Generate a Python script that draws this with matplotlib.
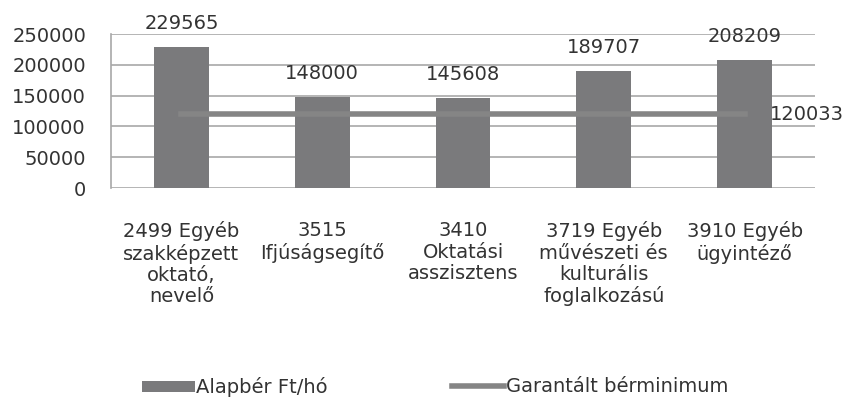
import matplotlib.pyplot as plt
import numpy as np

plt.rcParams['font.family'] = ['DejaVu Sans']

# data
categories = ['2499 Egyéb\nszakképzett\noktató,\nnevelő',
              '3515\nIfjúságsegítő',
              '3410\nOktatási\nasszisztens',
              '3719 Egyéb\nművészeti és\nkulturális\nfoglalkozású',
              '3910 Egyéb\nügyintéző']
alapber = [229565, 148000, 145608, 189707, 208209]
minimum = [120033, 120033, 120033, 120033, 120033]

fig = plt.figure(figsize=(8.51, 4.0), dpi=100)
ax = fig.add_axes([111/851, 1 - 188/400, (815-111)/851, (188-34)/400])

x = np.arange(len(categories))
bars = ax.bar(x, alapber, width=0.39, color='#7a7a7c', zorder=2, label='Alapbér Ft/hó')
line, = ax.plot(x, minimum, color='#858585', lw=4, zorder=3, label='Garantált bérminimum')

for xi, v in zip(x, alapber):
    ax.annotate(str(v), (xi, v), xytext=(0, 10), textcoords='offset points',
                ha='center', va='bottom', fontsize=14, color='#333333')
ax.annotate(str(minimum[-1]), (x[-1], minimum[-1]), xytext=(18, 0),
            textcoords='offset points', ha='left', va='center',
            fontsize=14, color='#333333')

ax.set_xlim(-0.5, 4.5)
ax.set_ylim(0, 250000)
ax.set_yticks(range(0, 250001, 50000))
ax.grid(axis='y', color='#a8a8a8', lw=1.2, zorder=0)
ax.set_xticks(x)
ax.set_xticklabels(categories, fontsize=14, color='#333333', linespacing=1.15)
ax.tick_params(axis='y', labelsize=14, labelcolor='#333333', length=0, pad=18)
ax.tick_params(axis='x', length=0, pad=24)
for s in ['top', 'right', 'bottom']:
    ax.spines[s].set_visible(False)
ax.spines['left'].set_color('#a8a8a8')
ax.spines['left'].set_linewidth(1.2)

# two legend entries placed separately like the original
leg1 = fig.legend(handles=[bars], loc='center left', bbox_to_anchor=(142/851, 1 - 387/400),
                  frameon=False, fontsize=14, handlelength=2.7, handleheight=0.5,
                  handletextpad=0.1, borderpad=0, borderaxespad=0, labelcolor='#333333')
leg2 = fig.legend(handles=[line], loc='center left', bbox_to_anchor=(452/851, 1 - 387/400),
                  frameon=False, fontsize=14, handlelength=2.7,
                  handletextpad=0.1, borderpad=0, borderaxespad=0, labelcolor='#333333')

fig.savefig('out.png', dpi=100, facecolor='white')
